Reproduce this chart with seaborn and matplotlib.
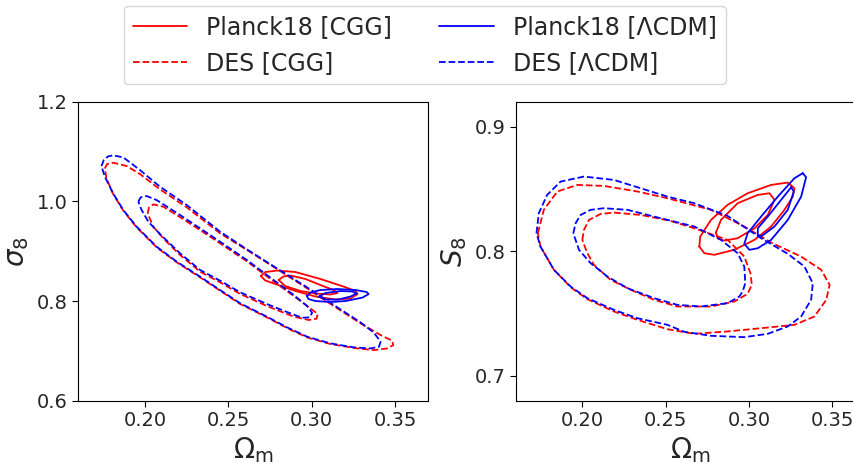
import matplotlib
matplotlib.use("Agg")
import matplotlib.pyplot as plt
import seaborn as sns
from matplotlib.lines import Line2D

# ---------------- data: contour outlines ----------------
# Left panel: (Omega_m, sigma_8)
L_DES_LCDM_95 = [(0.1739, 1.0709), (0.1753, 1.0829), (0.1779, 1.0903), (0.1809, 1.0923),
                 (0.1870, 1.0883), (0.1970, 1.0628), (0.2090, 1.0294), (0.2251, 0.9926),
                 (0.2451, 0.9391), (0.2612, 0.9036), (0.2792, 0.8655), (0.2973, 0.8274),
                 (0.3133, 0.7919), (0.3294, 0.7571), (0.3374, 0.7364), (0.3414, 0.7183),
                 (0.3404, 0.7083), (0.3354, 0.7049), (0.3254, 0.7069), (0.3113, 0.7150),
                 (0.2973, 0.7284), (0.2853, 0.7471), (0.2732, 0.7685), (0.2572, 0.7953),
                 (0.2451, 0.8220), (0.2331, 0.8488), (0.2191, 0.8789), (0.2070, 0.9090),
                 (0.1950, 0.9491), (0.1870, 0.9826), (0.1809, 1.0160), (0.1759, 1.0495)]
L_DES_CGG_95 = [(0.1759, 1.0662), (0.1773, 1.0749), (0.1809, 1.0776), (0.1890, 1.0709),
                (0.1970, 1.0548), (0.2090, 1.0241), (0.2251, 0.9879), (0.2451, 0.9358),
                (0.2612, 0.9023), (0.2792, 0.8642), (0.2973, 0.8254), (0.3133, 0.7899),
                (0.3294, 0.7551), (0.3414, 0.7317), (0.3484, 0.7203), (0.3490, 0.7116),
                (0.3454, 0.7049), (0.3374, 0.7016), (0.3274, 0.7049), (0.3113, 0.7136),
                (0.2973, 0.7270), (0.2853, 0.7457), (0.2732, 0.7672), (0.2572, 0.7939),
                (0.2451, 0.8207), (0.2331, 0.8474), (0.2191, 0.8776), (0.2070, 0.9077),
                (0.1950, 0.9478), (0.1870, 0.9813), (0.1809, 1.0147), (0.1769, 1.0461)]
L_DES_LCDM_68 = [(0.1960, 0.9993), (0.1974, 1.0080), (0.2010, 1.0107), (0.2070, 1.0026),
                 (0.2211, 0.9725), (0.2331, 0.9458), (0.2451, 0.9190), (0.2612, 0.8822),
                 (0.2772, 0.8421), (0.2893, 0.8120), (0.2973, 0.7899), (0.3003, 0.7765),
                 (0.2989, 0.7672), (0.2943, 0.7665), (0.2873, 0.7752), (0.2732, 0.7939),
                 (0.2572, 0.8174), (0.2451, 0.8408), (0.2331, 0.8622), (0.2211, 0.8956),
                 (0.2090, 0.9344), (0.2020, 0.9592), (0.1980, 0.9826)]
L_DES_CGG_68 = [(0.2016, 0.9759), (0.2024, 0.9879), (0.2050, 0.9940), (0.2110, 0.9893),
                (0.2231, 0.9639), (0.2331, 0.9424), (0.2451, 0.9157), (0.2612, 0.8796),
                (0.2772, 0.8394), (0.2893, 0.8100), (0.2993, 0.7853), (0.3037, 0.7739),
                (0.3029, 0.7645), (0.2983, 0.7619), (0.2893, 0.7686), (0.2732, 0.7899),
                (0.2572, 0.8140), (0.2451, 0.8375), (0.2331, 0.8589), (0.2211, 0.8923),
                (0.2110, 0.9257), (0.2050, 0.9491)]
L_PL_CGG_95 = [(0.2695, 0.8502), (0.2722, 0.8582), (0.2794, 0.8612), (0.2903, 0.8582),
               (0.3053, 0.8442), (0.3191, 0.8291), (0.3264, 0.8201), (0.3276, 0.8141),
               (0.3233, 0.8050), (0.3143, 0.8030), (0.3023, 0.8091), (0.2903, 0.8201),
               (0.2800, 0.8321), (0.2722, 0.8412)]
L_PL_CGG_68 = [(0.2802, 0.8422), (0.2830, 0.8492), (0.2873, 0.8512), (0.2963, 0.8442),
               (0.3053, 0.8321), (0.3131, 0.8221), (0.3155, 0.8161), (0.3113, 0.8131),
               (0.3023, 0.8151), (0.2933, 0.8201), (0.2842, 0.8301)]
L_PL_LCDM_95 = [(0.2972, 0.8100), (0.2993, 0.8171), (0.3053, 0.8221), (0.3155, 0.8241),
                (0.3264, 0.8221), (0.3330, 0.8181), (0.3342, 0.8141), (0.3306, 0.8070),
                (0.3203, 0.8000), (0.3113, 0.7980), (0.3023, 0.8000), (0.2981, 0.8040)]
L_PL_LCDM_68 = [(0.3044, 0.8090), (0.3083, 0.8161), (0.3173, 0.8201), (0.3245, 0.8191),
                (0.3270, 0.8151), (0.3233, 0.8090), (0.3161, 0.8030), (0.3083, 0.8030)]

# Right panel: (Omega_m, S_8)
R_DES_LCDM_95 = [(0.1725, 0.8144), (0.1739, 0.8305), (0.1789, 0.8452), (0.1870, 0.8559),
                 (0.2010, 0.8599), (0.2190, 0.8572), (0.2351, 0.8505), (0.2511, 0.8438),
                 (0.2672, 0.8385), (0.2872, 0.8283), (0.3073, 0.8104), (0.3233, 0.7979),
                 (0.3333, 0.7877), (0.3383, 0.7743), (0.3373, 0.7610), (0.3313, 0.7476),
                 (0.3233, 0.7396), (0.3113, 0.7337), (0.2972, 0.7310), (0.2772, 0.7321),
                 (0.2612, 0.7353), (0.2511, 0.7409), (0.2331, 0.7462), (0.2190, 0.7529),
                 (0.2030, 0.7623), (0.1930, 0.7716), (0.1830, 0.7850), (0.1749, 0.8037)]
R_DES_CGG_95 = [(0.1733, 0.8144), (0.1769, 0.8332), (0.1850, 0.8479), (0.1970, 0.8532),
                (0.2130, 0.8524), (0.2331, 0.8479), (0.2511, 0.8425), (0.2772, 0.8332),
                (0.2972, 0.8198), (0.3133, 0.8069), (0.3313, 0.7957), (0.3434, 0.7850),
                (0.3484, 0.7730), (0.3464, 0.7610), (0.3393, 0.7476), (0.3273, 0.7409),
                (0.3073, 0.7382), (0.2872, 0.7356), (0.2672, 0.7337), (0.2511, 0.7374),
                (0.2331, 0.7449), (0.2190, 0.7516), (0.2030, 0.7615), (0.1930, 0.7711),
                (0.1830, 0.7850), (0.1749, 0.8037)]
R_DES_LCDM_68 = [(0.1946, 0.8144), (0.1960, 0.8225), (0.1990, 0.8291), (0.2050, 0.8332),
                 (0.2130, 0.8345), (0.2271, 0.8332), (0.2431, 0.8278), (0.2672, 0.8198),
                 (0.2832, 0.8091), (0.2932, 0.7984), (0.2972, 0.7877), (0.2978, 0.7743),
                 (0.2962, 0.7676), (0.2942, 0.7636), (0.2872, 0.7583), (0.2712, 0.7556),
                 (0.2571, 0.7569), (0.2431, 0.7623), (0.2271, 0.7703), (0.2150, 0.7797),
                 (0.2050, 0.7904), (0.1980, 0.8011)]
R_DES_CGG_68 = [(0.2000, 0.8091), (0.2010, 0.8171), (0.2040, 0.8251), (0.2110, 0.8299),
                (0.2190, 0.8310), (0.2351, 0.8291), (0.2521, 0.8246), (0.2672, 0.8184),
                (0.2872, 0.8091), (0.2972, 0.7957), (0.3009, 0.7823), (0.3017, 0.7730),
                (0.2992, 0.7658), (0.2912, 0.7596), (0.2772, 0.7556), (0.2571, 0.7556),
                (0.2431, 0.7610), (0.2291, 0.7690), (0.2170, 0.7770), (0.2070, 0.7890),
                (0.2030, 0.7984)]
R_PL_CGG_95 = [(0.2702, 0.8037), (0.2708, 0.8118), (0.2772, 0.8251), (0.2872, 0.8372),
               (0.2992, 0.8465), (0.3133, 0.8532), (0.3233, 0.8551), (0.3273, 0.8505),
               (0.3263, 0.8438), (0.3213, 0.8332), (0.3133, 0.8198), (0.3033, 0.8091),
               (0.2912, 0.8011), (0.2792, 0.7971), (0.2732, 0.7984)]
R_PL_CGG_68 = [(0.2802, 0.8150), (0.2832, 0.8251), (0.2932, 0.8385), (0.3053, 0.8452),
               (0.3123, 0.8465), (0.3153, 0.8412), (0.3113, 0.8291), (0.3033, 0.8184),
               (0.2932, 0.8104), (0.2852, 0.8085), (0.2812, 0.8104)]
R_PL_LCDM_95 = [(0.3323, 0.8626), (0.3343, 0.8594), (0.3313, 0.8438), (0.3233, 0.8251),
                (0.3133, 0.8091), (0.3053, 0.8024), (0.3003, 0.8011), (0.2972, 0.8059),
                (0.2992, 0.8144), (0.3073, 0.8278), (0.3173, 0.8438), (0.3273, 0.8586)]
R_PL_LCDM_68 = [(0.3253, 0.8513), (0.3269, 0.8479), (0.3233, 0.8332), (0.3153, 0.8198),
                (0.3073, 0.8118), (0.3053, 0.8131), (0.3053, 0.8184), (0.3113, 0.8278),
                (0.3193, 0.8412)]

LABELS = ["Planck18 [CGG]", "DES [CGG]", "Planck18 [\u039bCDM]", "DES [\u039bCDM]"]
XTICKS = [0.20, 0.25, 0.30, 0.35]
L_YTICKS = [0.6, 0.8, 1.0, 1.2]
R_YTICKS = [0.7, 0.8, 0.9]

# ---------------- figure ----------------
sns.set_style("white")
plt.rcParams["font.family"] = ["DejaVu Sans"]
plt.rcParams["mathtext.fontset"] = "dejavusans"

fig = plt.figure(figsize=(8.54, 4.68), dpi=100)
axL = fig.add_axes([0.0917, 0.1438, 0.4098, 0.6389])
axR = fig.add_axes([0.6038, 0.1438, 0.4098, 0.6389])

LW = 1.3


def draw(ax, pts, color, ls):
    closed = list(pts) + [pts[0]]
    xs = [p[0] for p in closed]
    ys = [p[1] for p in closed]
    sns.lineplot(x=xs, y=ys, sort=False, estimator=None, color=color,
                 linestyle=ls, lw=LW, ax=ax, legend=False)


for ax, sets in [
    (axL, [(L_PL_CGG_95, L_PL_CGG_68, "red", "-"),
           (L_DES_CGG_95, L_DES_CGG_68, "red", "--"),
           (L_PL_LCDM_95, L_PL_LCDM_68, "blue", "-"),
           (L_DES_LCDM_95, L_DES_LCDM_68, "blue", "--")]),
    (axR, [(R_PL_CGG_95, R_PL_CGG_68, "red", "-"),
           (R_DES_CGG_95, R_DES_CGG_68, "red", "--"),
           (R_PL_LCDM_95, R_PL_LCDM_68, "blue", "-"),
           (R_DES_LCDM_95, R_DES_LCDM_68, "blue", "--")]),
]:
    for c95, c68, col, ls in sets:
        draw(ax, c95, col, ls)
        draw(ax, c68, col, ls)

handles = [Line2D([], [], color="red", ls="-", lw=LW),
           Line2D([], [], color="red", ls="--", lw=LW),
           Line2D([], [], color="blue", ls="-", lw=LW),
           Line2D([], [], color="blue", ls="--", lw=LW)]

for ax in (axL, axR):
    ax.set_xlim(0.16, 0.37)
    ax.set_xticks(XTICKS)
    ax.set_xticklabels([f"{t:.2f}" for t in XTICKS])
    ax.tick_params(axis="both", which="major", labelsize=14, direction="out",
                   length=4, width=0.8, bottom=True, left=True, color="black")
    for s in ax.spines.values():
        s.set_color("black")
        s.set_linewidth(0.8)
    ax.set_xlabel(r"$\Omega_{\rm m}$", fontsize=20)

axL.set_ylim(0.6, 1.2)
axL.set_yticks(L_YTICKS)
axL.set_yticklabels([f"{t:.1f}" for t in L_YTICKS])
axL.set_ylabel(r"$\sigma_8$", fontsize=20)

axR.set_ylim(0.68, 0.92)
axR.set_yticks(R_YTICKS)
axR.set_yticklabels([f"{t:.1f}" for t in R_YTICKS])
axR.set_ylabel(r"$S_8$", fontsize=20)

fig.legend(handles, LABELS, loc="upper center", bbox_to_anchor=(0.4975, 0.988),
           ncol=2, fontsize=17, frameon=True, borderaxespad=0.0,
           columnspacing=2.0, handlelength=2.3)

fig.savefig("out.png", dpi=100)
